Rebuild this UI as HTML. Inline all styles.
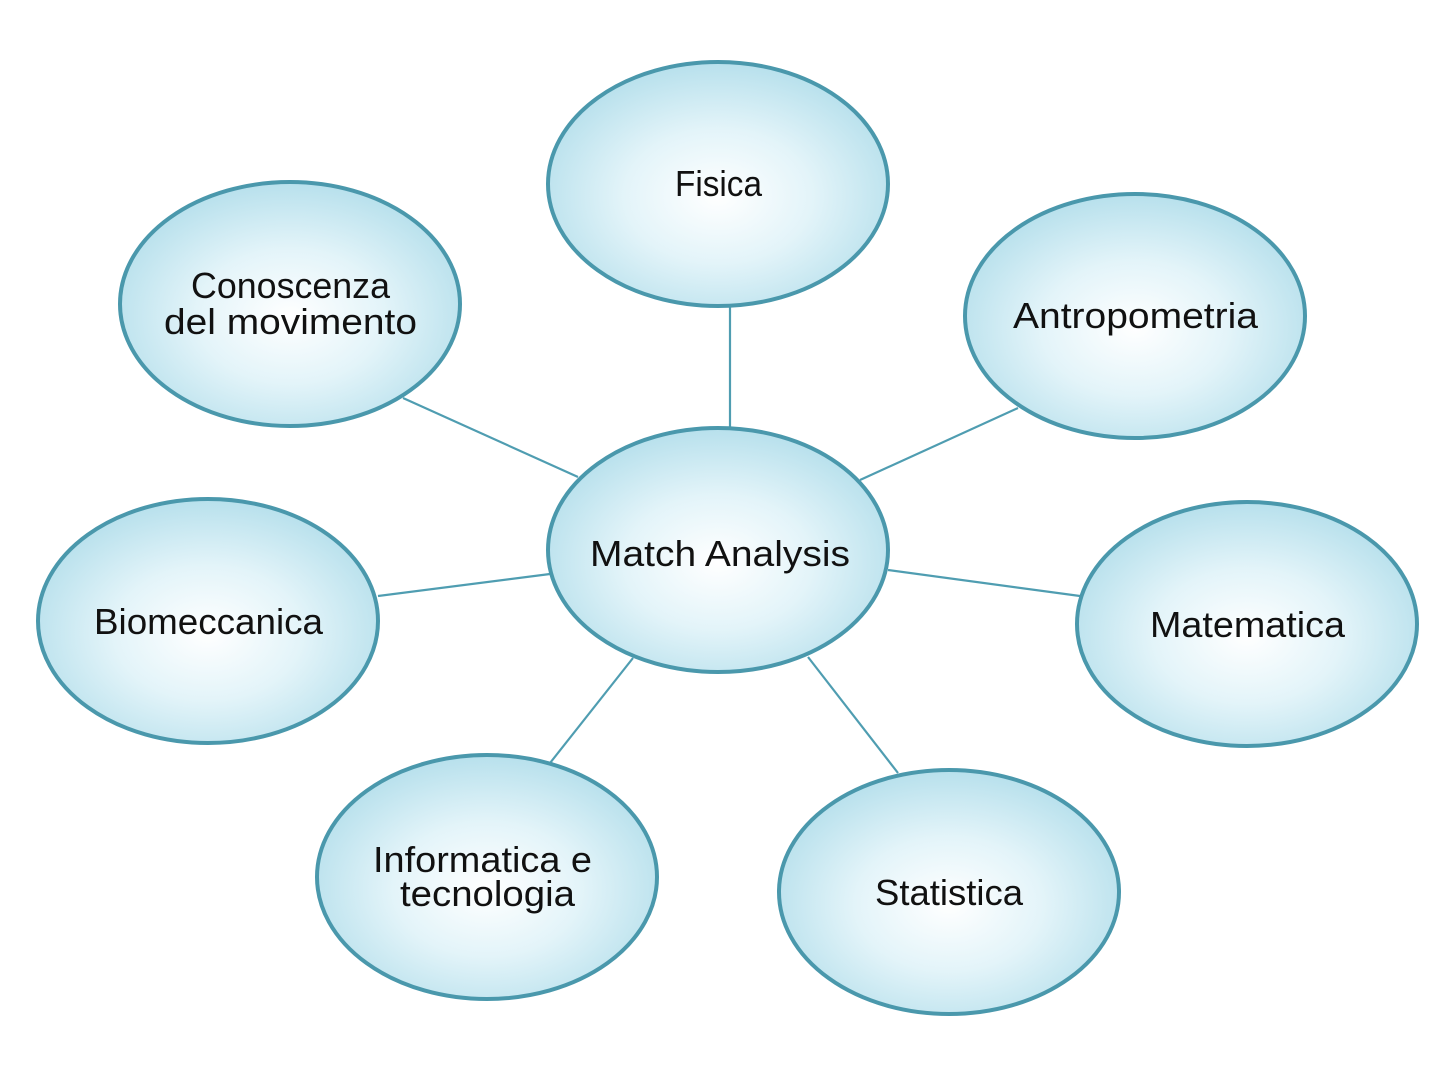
<!DOCTYPE html>
<html><head><meta charset="utf-8"><style>html,body{margin:0;padding:0;background:#fff}svg{display:block}</style></head>
<body>
<svg width="1456" height="1080" viewBox="0 0 1456 1080" xmlns="http://www.w3.org/2000/svg">
<defs>
<radialGradient id="g" cx="50%" cy="55%" r="55%">
<stop offset="0" stop-color="#ffffff"/>
<stop offset="0.5" stop-color="#e3f4f9"/>
<stop offset="1" stop-color="#b7e0ec"/>
</radialGradient>
</defs>
<g stroke="#4f9db1" stroke-width="2.2">
<line x1="730" y1="306" x2="730" y2="428"/>
<line x1="403" y1="398" x2="578" y2="477"/>
<line x1="1018" y1="408" x2="860" y2="480"/>
<line x1="378" y1="596" x2="550" y2="574"/>
<line x1="888" y1="570" x2="1080" y2="596"/>
<line x1="633" y1="658" x2="550" y2="763"/>
<line x1="808" y1="657" x2="898" y2="773"/>
</g>
<g fill="url(#g)" stroke="#4a98ac" stroke-width="4">
<ellipse cx="718" cy="184" rx="170" ry="122"/>
<ellipse cx="290" cy="304" rx="170" ry="122"/>
<ellipse cx="1135" cy="316" rx="170" ry="122"/>
<ellipse cx="208" cy="621" rx="170" ry="122"/>
<ellipse cx="1247" cy="624" rx="170" ry="122"/>
<ellipse cx="487" cy="877" rx="170" ry="122"/>
<ellipse cx="949" cy="892" rx="170" ry="122"/>
<ellipse cx="718" cy="550" rx="170" ry="122"/>
</g>
<g font-family="Liberation Sans, sans-serif" font-size="36" fill="#111" lengthAdjust="spacingAndGlyphs">
<text x="675" y="196" textLength="87" lengthAdjust="spacingAndGlyphs">Fisica</text>
<text x="590" y="566" textLength="260" lengthAdjust="spacingAndGlyphs">Match Analysis</text>
<text x="191" y="298" textLength="199" lengthAdjust="spacingAndGlyphs">Conoscenza</text>
<text x="164" y="334" textLength="253" lengthAdjust="spacingAndGlyphs">del movimento</text>
<text x="1013" y="328" textLength="245" lengthAdjust="spacingAndGlyphs">Antropometria</text>
<text x="94" y="634" textLength="229" lengthAdjust="spacingAndGlyphs">Biomeccanica</text>
<text x="1150" y="637" textLength="195" lengthAdjust="spacingAndGlyphs">Matematica</text>
<text x="373" y="872" textLength="219" lengthAdjust="spacingAndGlyphs">Informatica e</text>
<text x="400" y="906" textLength="175" lengthAdjust="spacingAndGlyphs">tecnologia</text>
<text x="875" y="905" textLength="148" lengthAdjust="spacingAndGlyphs">Statistica</text>
</g>
</svg>
</body></html>
